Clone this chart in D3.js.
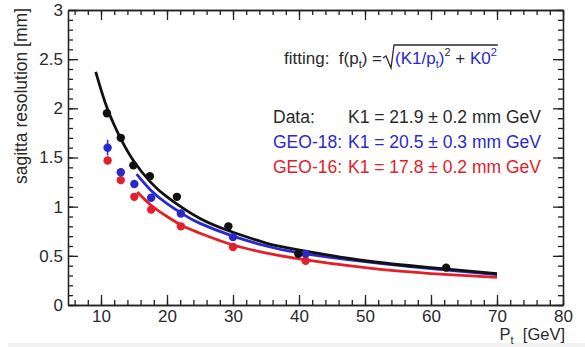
<!DOCTYPE html>
<html>
<head>
<meta charset="utf-8">
<script src="https://cdnjs.cloudflare.com/ajax/libs/d3/7.8.5/d3.min.js"></script>
<style>
  body { margin: 0; background: #fff; }
  svg { display: block; font-family: "Liberation Sans", Arial, Helvetica, sans-serif; }
</style>
</head>
<body>
<div class="chart"></div>
<script>
  'use strict';

  // measured points, pt in GeV, resolution in mm
  var dataPt   = [10.9, 13.0, 14.9, 17.4, 21.5, 29.3, 39.9, 62.3],
      dataRes  = [1.95, 1.70, 1.42, 1.31, 1.10, 0.80, 0.52, 0.38],
      dataErr  = [0.03, 0.03, 0.03, 0.03, 0.03, 0.03, 0.02, 0.02];

  var geo18Pt  = [11.0, 13.0, 15.05, 17.6, 22.1, 30.0, 41.0],
      geo18Res = [1.60, 1.35, 1.23, 1.09, 0.93, 0.69, 0.52],
      geo18Err = [0.08, 0.04, 0.03, 0.03, 0.03, 0.02, 0.02];

  var geo16Pt  = [11.0, 13.0, 15.05, 17.6, 22.1, 30.0, 41.0],
      geo16Res = [1.47, 1.27, 1.10, 0.97, 0.80, 0.59, 0.45],
      geo16Err = [0.04, 0.03, 0.03, 0.03, 0.02, 0.02, 0.02];

  // fit curves
  var fitDataPt   = [9.2, 10, 11, 12, 13, 15, 17.5, 20, 25, 30, 35, 40, 50, 60, 70],
      fitDataRes  = [2.37, 2.19, 1.99, 1.83, 1.69, 1.46, 1.25, 1.10, 0.88, 0.74, 0.63, 0.56, 0.45, 0.38, 0.32];
  var fitGeo18Pt  = [15.4, 17.5, 20, 22.5, 25, 30, 35, 40, 50, 60, 70],
      fitGeo18Res = [1.33, 1.17, 1.03, 0.92, 0.83, 0.70, 0.60, 0.53, 0.44, 0.37, 0.31];
  var fitGeo16Pt  = [15.5, 17.5, 20, 22.5, 25, 30, 35, 40, 50, 60, 70],
      fitGeo16Res = [1.15, 1.02, 0.90, 0.80, 0.73, 0.61, 0.53, 0.47, 0.38, 0.32, 0.28];

  var legendNames = ['Data:', 'GEO-18:', 'GEO-16:'],
      legendK1    = ['K1 = 21.9 \u00b1 0.2 mm GeV', 'K1 = 20.5 \u00b1 0.3 mm GeV', 'K1 = 17.8 \u00b1 0.2 mm GeV'];

  var width = 585, height = 347,
      black = '#111', blue = '#2a2acc', red = '#e3202a', textCol = '#2a2a2a';

  var svg = d3.select('.chart').append('svg')
    .attr('width', width)
    .attr('height', height);

  // faint strip at the very bottom of the screenshot
  svg.append('rect')
    .attr('x', 8).attr('y', 343).attr('width', width - 8).attr('height', 4)
    .attr('fill', '#f1f1f1');

  var x = d3.scaleLinear().domain([5, 80]).range([68, 563]),
      y = d3.scaleLinear().domain([0, 3]).range([305, 10]);

  var xMinor = d3.ticks(5, 80, 40),
      yMinor = d3.ticks(0, 3, 30);

  // ROOT style frame: ticks point inward on all four sides
  function addAxis(axis, tx, ty, showLabels) {
    var g = svg.append('g')
      .attr('transform', 'translate(' + tx + ',' + ty + ')')
      .call(axis);
    g.select('.domain').attr('stroke', '#222').attr('stroke-width', 1.3);
    g.selectAll('.tick line').attr('stroke', '#222').attr('stroke-width', 1.3);
    g.selectAll('.tick text')
      .attr('font-size', 17)
      .attr('font-family', '"Liberation Sans", Arial, sans-serif')
      .attr('fill', textCol)
      .style('display', showLabels ? null : 'none');
    return g;
  }

  // bottom
  addAxis(d3.axisBottom(x).tickValues(xMinor).tickSize(-5).tickSizeOuter(0).tickFormat(''), 0, y(0), false);
  addAxis(d3.axisBottom(x).ticks(8).tickSize(-10).tickSizeOuter(0).tickPadding(5), 0, y(0), true)
    .selectAll('.tick').filter(function(d) { return d < 10; }).remove();
  // top
  addAxis(d3.axisTop(x).tickValues(xMinor).tickSize(-5).tickSizeOuter(0).tickFormat(''), 0, y(3), false);
  addAxis(d3.axisTop(x).ticks(8).tickSize(-10).tickSizeOuter(0).tickFormat(''), 0, y(3), false);
  // left
  addAxis(d3.axisLeft(y).tickValues(yMinor).tickSize(-5).tickSizeOuter(0).tickFormat(''), x(5), 0, false);
  addAxis(d3.axisLeft(y).ticks(6).tickSize(-10).tickSizeOuter(0).tickPadding(5).tickFormat(d3.format('~g')), x(5), 0, true);
  // right
  addAxis(d3.axisRight(y).tickValues(yMinor).tickSize(-5).tickSizeOuter(0).tickFormat(''), x(80), 0, false);
  addAxis(d3.axisRight(y).ticks(6).tickSize(-10).tickSizeOuter(0).tickFormat(''), x(80), 0, false);

  // axis titles
  svg.append('text')
    .attr('transform', 'translate(27,' + (y(3) - 2) + ') rotate(-90)')
    .attr('text-anchor', 'end')
    .attr('font-size', 17.5)
    .attr('fill', textCol)
    .text('sagitta resolution [mm]');

  var xTitle = svg.append('text')
    .attr('x', x(80) + 2)
    .attr('y', 340)
    .attr('text-anchor', 'end')
    .attr('font-size', 16.5)
    .attr('fill', textCol)
    .attr('xml:space', 'preserve');
  xTitle.append('tspan').text('P');
  xTitle.append('tspan').attr('font-size', 11).attr('dy', 4).text('t');
  xTitle.append('tspan').attr('dy', -4).text('  [GeV]');

  // fit curves
  var line = d3.line()
    .x(function(d) { return x(d[0]); })
    .y(function(d) { return y(d[1]); })
    .curve(d3.curveNatural);

  function drawFit(pts, res, col) {
    svg.append('path')
      .datum(d3.zip(pts, res))
      .attr('d', line)
      .attr('fill', 'none')
      .attr('stroke', col)
      .attr('stroke-width', 2.8);
  }
  drawFit(fitGeo16Pt, fitGeo16Res, red);
  drawFit(fitGeo18Pt, fitGeo18Res, blue);
  drawFit(fitDataPt, fitDataRes, black);

  // markers with error bars
  function drawPoints(pts, res, err, col) {
    var g = svg.append('g');
    var items = g.selectAll('g').data(d3.zip(pts, res, err)).enter().append('g');
    items.append('line')
      .attr('x1', function(d) { return x(d[0]); })
      .attr('x2', function(d) { return x(d[0]); })
      .attr('y1', function(d) { return y(d[1] - d[2]); })
      .attr('y2', function(d) { return y(d[1] + d[2]); })
      .attr('stroke', col)
      .attr('stroke-width', 1.5);
    items.append('circle')
      .attr('cx', function(d) { return x(d[0]); })
      .attr('cy', function(d) { return y(d[1]); })
      .attr('r', 4.2)
      .attr('fill', col);
  }
  drawPoints(geo16Pt, geo16Res, geo16Err, red);
  drawPoints(geo18Pt, geo18Res, geo18Err, blue);
  drawPoints(dataPt, dataRes, dataErr, black);

  // formula line: pieces placed one after another
  var fx = 284, fy = 64;
  function piece(str, col, size, dy) {
    var t = svg.append('text')
      .attr('x', fx)
      .attr('y', fy + (dy || 0))
      .attr('font-size', size || 17)
      .attr('fill', col)
      .attr('xml:space', 'preserve')
      .text(str);
    fx += t.node().getComputedTextLength();
    return t;
  }
  piece('fitting:  f(p', textCol);
  piece('t', textCol, 11, 4);
  piece(') =', textCol);
  var sqrtStart = fx;
  fx += 13;
  var inner = fx;
  piece('(K1/p', blue);
  piece('t', blue, 11, 4);
  piece(')', blue);
  piece('2', textCol, 11, -8);
  piece(' + ', textCol);
  piece('K0', blue);
  piece('2', blue, 11, -8);
  // radical sign
  svg.append('path')
    .attr('d', 'M' + (sqrtStart + 1) + ',' + (fy - 6) +
               'L' + (sqrtStart + 4) + ',' + (fy - 8) +
               'L' + (sqrtStart + 9) + ',' + (fy + 4) +
               'L' + (inner - 1) + ',' + (fy - 19) +
               'L' + (fx + 1) + ',' + (fy - 19))
    .attr('fill', 'none')
    .attr('stroke', textCol)
    .attr('stroke-width', 1.3);

  // legend rows
  var rowCols = [textCol, blue, red],
      rowY = [123, 148, 173];
  legendNames.forEach(function(name, i) {
    svg.append('text')
      .attr('x', 273).attr('y', rowY[i])
      .attr('font-size', 17.5)
      .attr('fill', rowCols[i])
      .text(name);
    svg.append('text')
      .attr('x', 348).attr('y', rowY[i])
      .attr('font-size', 17.5)
      .attr('fill', rowCols[i])
      .text(legendK1[i]);
  });
</script>
</body>
</html>
